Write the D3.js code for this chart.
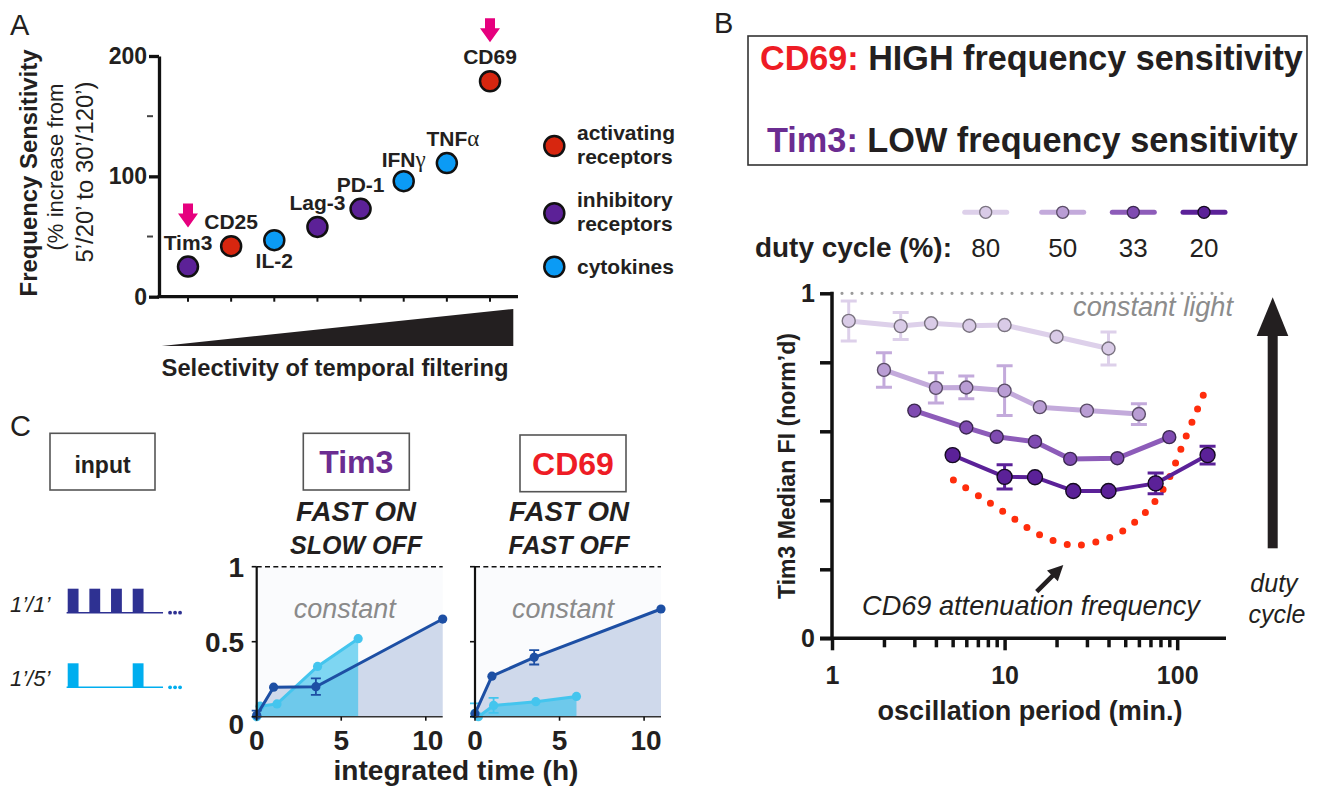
<!DOCTYPE html>
<html>
<head>
<meta charset="utf-8">
<script src="https://cdn.jsdelivr.net/npm/d3@7"></script>
<style>
  body { margin: 0; background: #fff; }
  svg text { font-family: "Liberation Sans", Arial, Helvetica, sans-serif; fill: #231f20; }
</style>
</head>
<body>
<div id="fig"></div>
<script>
// ---------- panel A data
const genes = ["Tim3", "CD25", "IL-2", "Lag-3", "PD-1", "IFNγ", "TNFα", "CD69"];
const sensitivity = [25, 42, 47, 58, 73, 96, 111, 179];
const geneClass = ["inhibitory", "activating", "cytokine", "inhibitory", "inhibitory", "cytokine", "cytokine", "activating"];
const classNames = ["activating", "inhibitory", "cytokine"];
const classLabels = [["activating", "receptors"], ["inhibitory", "receptors"], ["cytokines"]];
const flagged = ["Tim3", "CD69"];
const ticksA = [0, 100, 200];
const minorTicksA = [50, 150];

// ---------- panel B data (Tim3, by duty cycle)
const dutyCycles = [80, 50, 33, 20];
const period80 = [1.25, 2.5, 3.75, 6.25, 10, 20, 40];
const tim3_80 = [0.92, 0.905, 0.913, 0.906, 0.908, 0.874, 0.84];
const err80 = [0.058, 0.039, 0, 0, 0, 0, 0.048];
const period50 = [2, 4, 6, 10, 16, 30, 60];
const tim3_50 = [0.778, 0.726, 0.727, 0.718, 0.67, 0.66, 0.65];
const err50 = [0.05, 0.044, 0.033, 0.072, 0, 0, 0.03];
const period33 = [3, 6, 9, 15, 24, 45, 90];
const tim3_33 = [0.66, 0.611, 0.584, 0.57, 0.52, 0.522, 0.583];
const err33 = [0, 0, 0, 0, 0, 0, 0];
const period20 = [5, 10, 15, 25, 40, 75, 150];
const tim3_20 = [0.531, 0.468, 0.467, 0.427, 0.427, 0.449, 0.531];
const err20 = [0, 0.035, 0, 0, 0, 0.03, 0.026];
// CD69 attenuation curve (red dots)
const cd69Period = [5.05, 7.44, 10.8, 15.8, 24.2, 30, 45.7, 65.2, 85, 111, 145];
const cd69Level = [0.459, 0.406, 0.354, 0.301, 0.27, 0.273, 0.304, 0.364, 0.441, 0.578, 0.717];
const ticksBx = [1, 2, 3, 4, 5, 6, 7, 8, 9, 10, 20, 30, 40, 50, 60, 70, 80, 90, 100];
const ticksBy = [0, 0.2, 0.4, 0.6, 0.8, 1];

// ---------- panel C data
const pulsesFast = [0, 2, 4, 6];   // 1'/1' on-times (min)
const pulsesSlow = [0, 6];         // 1'/5'
const hoursFast = [0, 1, 3.5, 11];
const hoursSlow = [0, 0.2, 1.2, 3.6, 6];
const tim3Fast = [0.01, 0.197, 0.2, 0.651];
const tim3FastErr = [0.03, 0, 0.055, 0];
const tim3Slow = [0, 0.07, 0.085, 0.335, 0.52];
const tim3SlowErr = [0, 0, 0, 0, 0];
const cd69Fast = [0.02, 0.27, 0.396, 0.718];
const cd69FastErr = [0, 0, 0.048, 0];
const cd69SlowHours = [0, 0.2, 1.1, 3.6, 6];
const cd69Slow = [0.023, 0, 0.075, 0.1, 0.135];
const cd69SlowErr = [0.066, 0, 0.05, 0, 0];
const ticksCx = [0, 5, 10];
const ticksCy = [0, 0.5, 1];

const svg = d3.select("#fig").append("svg")
  .attr("width", 1339).attr("height", 786);

// shrink/grow font so that a text spans a given width
function fitWidth(sel, w) {
  const n = sel.node();
  const fs = parseFloat(sel.attr("font-size"));
  const len = n.getComputedTextLength();
  if (len > 0) sel.attr("font-size", (fs * w / len).toFixed(2));
  return sel;
}

// panel letters
[["A", 10, 35], ["B", 714, 33], ["C", 10, 436]].forEach(([s, x, y]) => {
  svg.append("text").attr("x", x).attr("y", y).attr("font-size", 29).text(s);
});

// =====================  PANEL A  =====================
const gA = svg.append("g");
const xA = d3.scalePoint().domain(genes).range([188, 490]);
const yA = d3.scaleLinear().domain([0, 200]).range([296.7, 56]);
const colA = { activating: "#d7260f", inhibitory: "#5c2197", cytokine: "#0b9bf5" };

const axA = gA.append("g").attr("transform", "translate(159,0)")
  .call(d3.axisLeft(yA).tickValues(ticksA).tickSize(10).tickSizeOuter(0).tickPadding(2));
axA.selectAll("path,line").attr("stroke", "#111").attr("stroke-width", 3.3);
axA.selectAll("text").attr("font-size", 23).attr("font-weight", "bold")
  .attr("font-family", "Liberation Sans, Arial, sans-serif").attr("fill", "#231f20");
gA.selectAll(".minor").data(minorTicksA).join("line")
  .attr("x1", 147).attr("x2", 153).attr("y1", d => yA(d)).attr("y2", d => yA(d))
  .attr("stroke", "#444").attr("stroke-width", 2);

gA.append("line").attr("x1", 157.5).attr("x2", 518).attr("y1", yA(0)).attr("y2", yA(0))
  .attr("stroke", "#111").attr("stroke-width", 3.3);
gA.selectAll(".xt").data(genes).join("line")
  .attr("x1", d => xA(d)).attr("x2", d => xA(d)).attr("y1", yA(0)).attr("y2", yA(0) + 5)
  .attr("stroke", "#111").attr("stroke-width", 2);

const ptsA = genes.map((g, i) => ({ g, v: sensitivity[i], c: geneClass[i] }));
gA.selectAll(".pt").data(ptsA).join("circle")
  .attr("cx", d => xA(d.g)).attr("cy", d => yA(d.v)).attr("r", 10)
  .attr("fill", d => colA[d.c]).attr("stroke", "#111").attr("stroke-width", 2.5);

const labA = gA.selectAll(".lab").data(ptsA).join("text")
  .attr("x", d => xA(d.g) + (d.g === "TNFα" ? 6 : 0))
  .attr("y", d => yA(d.v) + (d.g === "IL-2" ? 28 : (d.g === "IFNγ" ? -14 : -17)))
  .attr("text-anchor", "middle").attr("font-size", 21).attr("font-weight", "bold");
labA.each(function (d) {
  const t = d3.select(this);
  const greek = d.g.slice(-1);
  if (greek === "γ" || greek === "α") {
    t.append("tspan").text(d.g.slice(0, -1));
    t.append("tspan").attr("font-family", "Liberation Serif, DejaVu Serif, serif")
      .attr("font-weight", "normal").attr("font-size", 23).text(greek);
  } else t.text(d.g);
});

// magenta arrows
gA.selectAll(".flag").data(ptsA.filter(d => flagged.includes(d.g))).join("path")
  .attr("transform", d => `translate(${xA(d.g)},${yA(d.v) - 39})`)
  .attr("d", "M-5,-24 L5,-24 L5,-14 L10,-14 L0,0 L-10,-14 L-5,-14 Z")
  .attr("fill", "#e6007e");

// selectivity wedge
gA.append("path").attr("d", "M161.7,346 L513.3,309 L513.3,346 Z").attr("fill", "#231f20");
fitWidth(gA.append("text").attr("x", 335).attr("y", 376).attr("text-anchor", "middle")
  .attr("font-size", 20).attr("font-weight", "bold").text("Selectivity of temporal filtering"), 347);

// y labels
fitWidth(gA.append("text").attr("transform", "translate(37,173) rotate(-90)")
  .attr("text-anchor", "middle").attr("font-size", 23).attr("font-weight", "bold")
  .text("Frequency Sensitivity"), 247);
fitWidth(gA.append("text").attr("transform", "translate(63,167) rotate(-90)")
  .attr("text-anchor", "middle").attr("font-size", 21).text("(% increase from"), 167);
fitWidth(gA.append("text").attr("transform", "translate(93,172) rotate(-90)")
  .attr("text-anchor", "middle").attr("font-size", 21).text("5’/20’ to 30’/120’)"), 181);

// legend
const legY = [146, 213.3, 266.7];
classNames.forEach((c, i) => {
  gA.append("circle").attr("cx", 554.3).attr("cy", legY[i]).attr("r", 10)
    .attr("fill", colA[c]).attr("stroke", "#111").attr("stroke-width", 2.5);
  const lines = classLabels[i];
  lines.forEach((s, j) => {
    gA.append("text").attr("x", 577).attr("font-size", 21).attr("font-weight", "bold")
      .attr("y", lines.length === 1 ? legY[i] + 7.5 : legY[i] - 6.5 + j * 24.5)
      .text(s);
  });
});

// =====================  PANEL B  =====================
const gB = svg.append("g");
// header box
gB.append("rect").attr("x", 748).attr("y", 36).attr("width", 559).attr("height", 129)
  .attr("fill", "none").attr("stroke", "#333").attr("stroke-width", 1.6);
const h1 = gB.append("text").attr("x", 760).attr("y", 70).attr("font-size", 30).attr("font-weight", "bold");
h1.append("tspan").style("fill", "#ee1c25").text("CD69:");
h1.append("tspan").text(" HIGH frequency sensitivity");
fitWidth(h1, 543);
const h2 = gB.append("text").attr("x", 767).attr("y", 151.7).attr("font-size", 30).attr("font-weight", "bold");
h2.append("tspan").style("fill", "#6b2c91").text("Tim3:");
h2.append("tspan").text(" LOW frequency sensitivity");
fitWidth(h2, 531);

const xB = d3.scaleLog().domain([1, 190]).range([832, 1225.3]);
const yB = d3.scaleLinear().domain([0, 1]).range([638.3, 293.3]);

const series = [
  { dc: 80, p: period80, v: tim3_80, e: err80, line: "#ddd0ea", fill: "#d9cbe7", stroke: "#7a7380", w: 5, r: 6.5 },
  { dc: 50, p: period50, v: tim3_50, e: err50, line: "#c3aadb", fill: "#b99dd4", stroke: "#5b4d68", w: 5, r: 6.5 },
  { dc: 33, p: period33, v: tim3_33, e: err33, line: "#8d5cb9", fill: "#7f4bb1", stroke: "#3b2850", w: 5, r: 6.5 },
  { dc: 20, p: period20, v: tim3_20, e: err20, line: "#5b2198", fill: "#5b2198", stroke: "#140a20", w: 4, r: 7.5 }
];

// legend
const legX = [985.7, 1062.7, 1133.3, 1204];
series.forEach((s, i) => {
  gB.append("line").attr("x1", legX[i] - 21).attr("x2", legX[i] + 21)
    .attr("y1", 212.3).attr("y2", 212.3).attr("stroke", s.line).attr("stroke-width", 5)
    .attr("stroke-linecap", "round");
  gB.append("circle").attr("cx", legX[i]).attr("cy", 212.3).attr("r", 6)
    .attr("fill", s.fill).attr("stroke", s.stroke).attr("stroke-width", 1.3);
  gB.append("text").attr("x", legX[i]).attr("y", 256.7).attr("text-anchor", "middle")
    .attr("font-size", 26).text(s.dc);
});
fitWidth(gB.append("text").attr("x", 755).attr("y", 256.7).attr("font-size", 26)
  .attr("font-weight", "bold").text("duty cycle (%):"), 197);

// constant light reference
gB.append("line").attr("x1", xB(1)).attr("x2", 1227).attr("y1", yB(1)).attr("y2", yB(1))
  .attr("stroke", "#9a9a9a").attr("stroke-width", 3.2).attr("stroke-linecap", "round")
  .attr("stroke-dasharray", "0 10");
fitWidth(gB.append("text").attr("x", 1233).attr("y", 316).attr("text-anchor", "end")
  .attr("font-size", 24).attr("font-style", "italic").style("fill", "#8c8c8c").text("constant light"), 160);

// CD69 attenuation curve
gB.append("path")
  .attr("d", d3.line().curve(d3.curveCatmullRom)(cd69Period.map((p, i) => [xB(p), yB(cd69Level[i])])))
  .attr("fill", "none").attr("stroke", "#ff2d0c").attr("stroke-width", 7)
  .attr("stroke-linecap", "round").attr("stroke-dasharray", "0 14.6");

// series
series.forEach(s => {
  const pts = s.p.map((p, i) => ({ p, v: s.v[i], e: s.e[i] }));
  const g = gB.append("g");
  g.append("path").attr("d", d3.line().x(d => xB(d.p)).y(d => yB(d.v))(pts))
    .attr("fill", "none").attr("stroke", s.line).attr("stroke-width", s.w).attr("stroke-linejoin", "round");
  const eb = pts.filter(d => d.e > 0);
  g.selectAll(".eb").data(eb).join("path")
    .attr("d", d => {
      const x = xB(d.p), y1 = yB(d.v - d.e), y2 = yB(d.v + d.e);
      return `M${x},${y1}V${y2}M${x - 8},${y1}H${x + 8}M${x - 8},${y2}H${x + 8}`;
    })
    .attr("fill", "none").attr("stroke", s.line).attr("stroke-width", 3);
  g.selectAll("circle").data(pts).join("circle")
    .attr("cx", d => xB(d.p)).attr("cy", d => yB(d.v)).attr("r", s.r)
    .attr("fill", s.fill).attr("stroke", s.stroke).attr("stroke-width", 1.4);
});

// axes
const axBy = gB.append("g").attr("transform", `translate(${xB(1)},0)`)
  .call(d3.axisLeft(yB).tickValues(ticksBy).tickSize(12).tickSizeOuter(0)
    .tickFormat(d => (d === 0 || d === 1) ? d : "").tickPadding(5));
const axBx = gB.append("g").attr("transform", `translate(0,${yB(0)})`)
  .call(d3.axisBottom(xB).tickValues(ticksBx).tickSizeOuter(0)
    .tickFormat(d => [1, 10, 100].includes(d) ? d : "").tickPadding(22));
axBx.selectAll(".tick line").attr("y2", d => [1, 10, 100].includes(d) ? 12 : 9);
[axBy, axBx].forEach(a => {
  a.select(".domain").remove();
  a.selectAll("line").attr("stroke", "#111").attr("stroke-width", 3.5);
  a.selectAll("text").attr("font-size", 25).attr("font-weight", "bold")
    .attr("font-family", "Liberation Sans, Arial, sans-serif").attr("fill", "#231f20");
});
gB.append("line").attr("x1", xB(1)).attr("x2", xB(1)).attr("y1", yB(1) - 1.5).attr("y2", yB(0) + 1.5)
  .attr("stroke", "#111").attr("stroke-width", 3.5);
gB.append("line").attr("x1", xB(1) - 12).attr("x2", 1226).attr("y1", yB(0)).attr("y2", yB(0))
  .attr("stroke", "#111").attr("stroke-width", 3.5);

fitWidth(gB.append("text").attr("x", 1030).attr("y", 720).attr("text-anchor", "middle")
  .attr("font-size", 25).attr("font-weight", "bold").text("oscillation period (min.)"), 305);
fitWidth(gB.append("text").attr("transform", "translate(795,466) rotate(-90)").attr("text-anchor", "middle")
  .attr("font-size", 22).attr("font-weight", "bold").text("Tim3 Median FI (norm’d)"), 266);

// annotation
fitWidth(gB.append("text").attr("x", 1031).attr("y", 615).attr("text-anchor", "middle")
  .attr("font-size", 23).attr("font-style", "italic").text("CD69 attenuation frequency"), 338);
gB.append("path").attr("d", "M1036.7,591.7 L1055,573.4").attr("stroke", "#231f20")
  .attr("stroke-width", 4.5);
gB.append("path").attr("d", "M1063.3,565 L1047,570.5 L1057.8,581.3 Z").attr("fill", "#231f20");

// duty-cycle arrow
gB.append("rect").attr("x", 1267.7).attr("y", 333).attr("width", 10).attr("height", 215.3).attr("fill", "#231f20");
gB.append("path").attr("d", "M1256.7,336 L1288.3,336 L1272.7,297.3 Z").attr("fill", "#231f20");
gB.append("text").attr("x", 1274).attr("y", 591.7).attr("text-anchor", "middle")
  .attr("font-size", 25).attr("font-style", "italic").text("duty");
gB.append("text").attr("x", 1277).attr("y", 623.3).attr("text-anchor", "middle")
  .attr("font-size", 25).attr("font-style", "italic").text("cycle");

// =====================  PANEL C  =====================
const gC = svg.append("g");
const navy = "#2e3192", cyan = "#00aeef";

// input box
gC.append("rect").attr("x", 50).attr("y", 433.3).attr("width", 105).attr("height", 56.7)
  .attr("fill", "none").attr("stroke", "#555").attr("stroke-width", 1.6);
gC.append("text").attr("x", 102.5).attr("y", 473).attr("text-anchor", "middle")
  .attr("font-size", 23).attr("font-weight", "bold").text("input");

const tIn = d3.scaleLinear().domain([0, 9]).range([67.7, 165.2]);
[[pulsesFast, navy, 612.7, "1’/1’"], [pulsesSlow, cyan, 687.3, "1’/5’"]].forEach(([pulses, col, base, lab]) => {
  gC.append("text").attr("x", 10).attr("y", base - 1).attr("font-size", 22)
    .attr("font-style", "italic").text(lab);
  gC.append("line").attr("x1", tIn(-0.1)).attr("x2", tIn(8.8)).attr("y1", base).attr("y2", base)
    .attr("stroke", col).attr("stroke-width", 1.6);
  gC.selectAll(null).data(pulses).join("rect")
    .attr("x", d => tIn(d)).attr("width", tIn(1) - tIn(0)).attr("y", base - 24).attr("height", 24)
    .attr("fill", col);
  gC.selectAll(null).data([0, 1, 2]).join("circle")
    .attr("cx", d => tIn(9.45) + d * 5).attr("cy", base).attr("r", 1.9).attr("fill", col);
});

// headers
function header(cx, boxX, boxY, name, col, l1, l2) {
  gC.append("rect").attr("x", boxX).attr("y", boxY).attr("width", 106).attr("height", 56.7)
    .attr("fill", "none").attr("stroke", "#555").attr("stroke-width", 1.6);
  gC.append("text").attr("x", boxX + 53).attr("y", boxY + 40).attr("text-anchor", "middle")
    .attr("font-size", 32).attr("font-weight", "bold").style("fill", col).text(name);
  fitWidth(gC.append("text").attr("x", cx).attr("y", 520.5).attr("text-anchor", "middle")
    .attr("font-size", 25).attr("font-weight", "bold").attr("font-style", "italic").text(l1), 120);
  gC.append("text").attr("x", cx).attr("y", 554).attr("text-anchor", "middle")
    .attr("font-size", 25).attr("font-weight", "bold").attr("font-style", "italic").text(l2);
}
header(356, 303.3, 433.3, "Tim3", "#6b2c91", "FAST ON", "SLOW OFF");
header(569, 520, 435, "CD69", "#ee1c25", "FAST ON", "FAST OFF");

const yC = d3.scaleLinear().domain([0, 1]).range([716.7, 566.7]);

function kinetics(x0, fast, fastErr, slowH, slow, slowErr, showY) {
  const xC = d3.scaleLinear().domain([0, 11]).range([x0, x0 + 186]);
  const g = gC.append("g");
  g.append("rect").attr("x", xC(0)).attr("y", yC(1)).attr("width", xC(11) - xC(0))
    .attr("height", yC(0) - yC(1)).attr("fill", "#fafbfd");
  const fastPts = hoursFast.map((h, i) => ({ h, v: fast[i], e: fastErr[i] }));
  const slowPts = slowH.map((h, i) => ({ h, v: slow[i], e: slowErr[i] }));
  const area = d3.area().x(d => xC(d.h)).y0(yC(0)).y1(d => yC(d.v));
  g.append("path").attr("d", area(fastPts)).attr("fill", "#cfd9eb");
  g.append("path").attr("d", area(slowPts)).attr("fill", "rgb(50,190,235)").attr("fill-opacity", 0.62);
  g.append("text").attr("x", xC(5.5) - 5).attr("y", 618).attr("text-anchor", "middle")
    .attr("font-size", 27).attr("font-style", "italic").style("fill", "#8a8a8a").text("constant");
  // dashed constant level
  g.append("line").attr("x1", xC(0)).attr("x2", xC(11)).attr("y1", yC(1)).attr("y2", yC(1))
    .attr("stroke", "#111").attr("stroke-width", 1.6).attr("stroke-dasharray", "5 3.3");
  [[slowPts, "#44c5ee"], [fastPts, "#1d4fa4"]].forEach(([pts, col]) => {
    g.append("path").attr("d", d3.line().x(d => xC(d.h)).y(d => yC(d.v))(pts))
      .attr("fill", "none").attr("stroke", col).attr("stroke-width", 3);
    g.selectAll(null).data(pts.filter(d => d.e > 0)).join("path")
      .attr("d", d => {
        const x = xC(d.h), a = yC(Math.max(0, d.v - d.e)), b = yC(d.v + d.e);
        return `M${x},${a}V${b}M${x - 5},${a}H${x + 5}M${x - 5},${b}H${x + 5}`;
      }).attr("fill", "none").attr("stroke", col).attr("stroke-width", 1.8);
    g.selectAll(null).data(pts).join("circle")
      .attr("cx", d => xC(d.h)).attr("cy", d => yC(d.v)).attr("r", 4.6).attr("fill", col);
  });
  // axes
  g.append("line").attr("x1", xC(0)).attr("x2", xC(0)).attr("y1", yC(1)).attr("y2", yC(0))
    .attr("stroke", "#111").attr("stroke-width", 2.2);
  g.append("line").attr("x1", xC(0)).attr("x2", xC(11)).attr("y1", yC(0)).attr("y2", yC(0))
    .attr("stroke", "#333").attr("stroke-width", 1.4);
  g.selectAll(null).data(ticksCy).join("line")
    .attr("x1", xC(0) - 5).attr("x2", xC(0)).attr("y1", d => yC(d)).attr("y2", d => yC(d))
    .attr("stroke", "#111").attr("stroke-width", 1.6);
  g.selectAll(null).data(ticksCx).join("line")
    .attr("x1", d => xC(d)).attr("x2", d => xC(d)).attr("y1", yC(0)).attr("y2", yC(0) + 4)
    .attr("stroke", "#111").attr("stroke-width", 1.6);
  g.selectAll(null).data(ticksCx).join("text")
    .attr("x", d => xC(d) + (d === 10 ? 2 : 0)).attr("y", 750).attr("text-anchor", "middle")
    .attr("font-size", 28).attr("font-weight", "bold").text(d => d);
  if (showY) {
    g.selectAll(null).data(ticksCy).join("text")
      .attr("x", 244).attr("y", d => yC(d) + (d === 0 ? 17 : 10)).attr("text-anchor", "end")
      .attr("font-size", 28).attr("font-weight", "bold").text(d => d);
  }
}
kinetics(256.7, tim3Fast, tim3FastErr, hoursSlow, tim3Slow, tim3SlowErr, true);
kinetics(475, cd69Fast, cd69FastErr, cd69SlowHours, cd69Slow, cd69SlowErr, false);

fitWidth(gC.append("text").attr("x", 456).attr("y", 780).attr("text-anchor", "middle")
  .attr("font-size", 27).attr("font-weight", "bold").text("integrated time (h)"), 245);
</script>
</body>
</html>
